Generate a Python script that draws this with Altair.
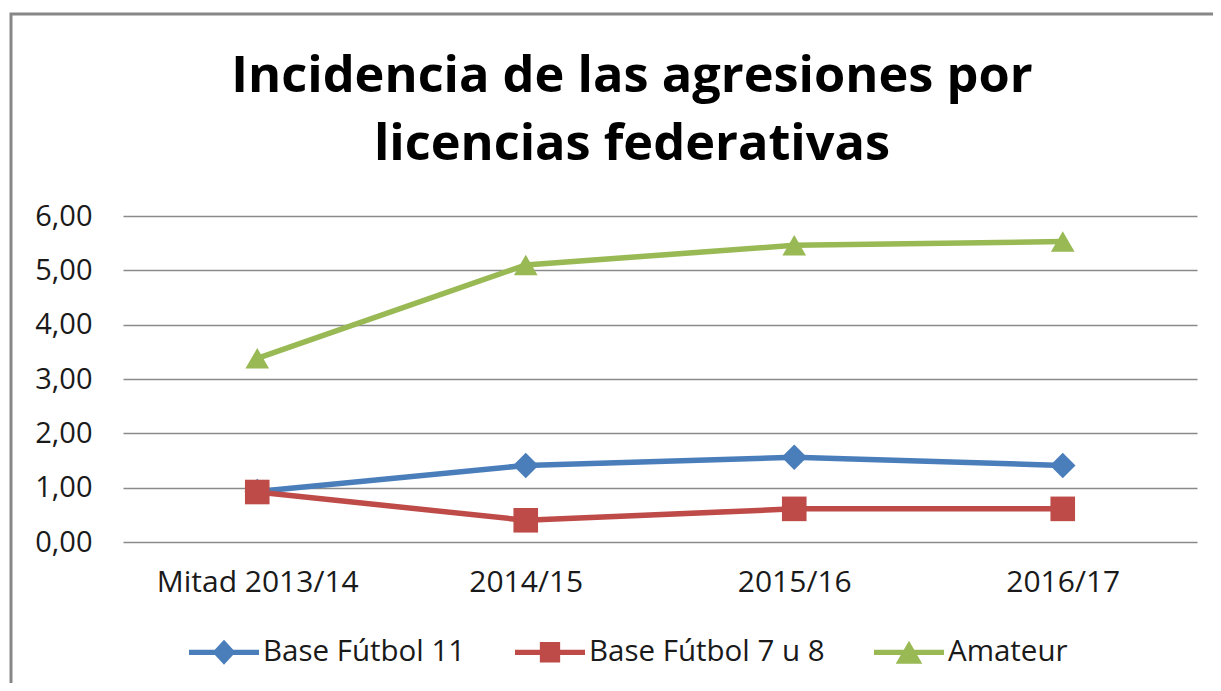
import altair as alt
import pandas as pd

categories = ["Mitad 2013/14", "2014/15", "2015/16", "2016/17"]
series = ["Base Fútbol 11", "Base Fútbol 7 u 8", "Amateur"]
base_futbol_11 = [0.93, 1.41, 1.56, 1.41]
base_futbol_7_8 = [0.92, 0.40, 0.61, 0.61]
amateur = [3.38, 5.10, 5.46, 5.53]
y_ticks = [0, 1, 2, 3, 4, 5, 6]
title_lines = ["Incidencia de las agresiones por", "licencias federativas"]

colors = ["#4A7EBB", "#BE4B48", "#98B954"]

rows = []
for name, vals in zip(series, [base_futbol_11, base_futbol_7_8, amateur]):
    for c, v in zip(categories, vals):
        rows.append({"temporada": c, "serie": name, "valor": v})
df = pd.DataFrame(rows)

FONT = "Open Sans"

x_enc = alt.X("temporada:N", sort=categories,
              scale=alt.Scale(paddingOuter=0.5, paddingInner=0),
              axis=alt.Axis(title=None, labelAngle=0, labelFont=FONT, labelFontSize=30,
                            labelColor="#1a1a1a", domain=False, ticks=False, labelLimit=0,
                            labelPadding=25, grid=False))
y_enc = alt.Y("valor:Q", scale=alt.Scale(domain=[0, 6], nice=False),
              axis=alt.Axis(title=None, values=y_ticks, domain=False, ticks=False,
                            labelFont=FONT, labelFontSize=29, labelColor="#1a1a1a",
                            labelPadding=31,
                            labelExpr="replace(format(datum.value, '.2f'), '.', ',')",
                            gridColor="#8a8a8a", gridWidth=1.4))

color_scale = alt.Scale(domain=series, range=colors)

lines = alt.Chart(df).mark_line(strokeWidth=5.5, strokeCap="round").encode(
    x=x_enc, y=y_enc,
    color=alt.Color("serie:N", scale=color_scale, legend=None),
)

points = alt.Chart(df).mark_point(filled=True, opacity=1).encode(
    x=alt.X("temporada:N", sort=categories),
    y="valor:Q",
    color=alt.Color("serie:N", scale=color_scale, legend=None),
    shape=alt.Shape("serie:N", scale=alt.Scale(domain=series, range=["diamond", "square", "triangle-up"]), legend=None),
    size=alt.Size("serie:N", scale=alt.Scale(domain=series, range=[650, 560, 900]), legend=None),
)

leg_paths = [
    "M-1,-0.075H1V0.075H-1Z M-0.33,0L0,-0.36L0.33,0L0,0.36Z",
    "M-1,-0.075H1V0.075H-1Z M-0.29,-0.29H0.29V0.29H-0.29Z",
    "M-1,-0.075H1V0.075H-1Z M0,-0.33L0.38,0.33L-0.38,0.33Z",
]
legend = alt.Legend(title=None, orient="none", direction="horizontal", legendX=66, legendY=401,
                    symbolSize=4900, labelFont=FONT, labelFontSize=29.5, labelColor="#1a1a1a",
                    labelOffset=4, columnPadding=49, symbolStrokeWidth=0, labelLimit=0,
                    symbolOpacity=1)
dummy = alt.Chart(df).mark_point(filled=True, size=0, opacity=1).encode(
    x=alt.X("temporada:N", sort=categories),
    y="valor:Q",
    color=alt.Color("serie:N", scale=color_scale, legend=legend),
    shape=alt.Shape("serie:N", scale=alt.Scale(domain=series, range=leg_paths), legend=legend),
)

frame = alt.Chart(pd.DataFrame({"k": [0]})).mark_rect(fill=None, stroke="#878787", strokeWidth=3).encode(
    x=alt.value(-112), x2=alt.value(1200), y=alt.value(-202), y2=alt.value(600)
)

title = alt.Chart(pd.DataFrame({"k": [0]})).mark_text(
    text=title_lines, font=FONT, fontSize=50.5, fontWeight="bold", color="#000000",
    lineHeight=68, align="center", baseline="alphabetic"
).encode(x=alt.value(509), y=alt.value(-124))

chart = alt.layer(frame, title, lines, points, dummy).resolve_scale(
    color="independent", shape="independent", size="independent"
).properties(
    width=1074, height=326,
    autosize=alt.AutoSizeParams(type="none"),
    padding={"left": 115, "top": 208, "right": 16, "bottom": 141},
).configure_view(stroke=None)

chart.save("out.html", embed_options={"renderer": "svg", "actions": False})
